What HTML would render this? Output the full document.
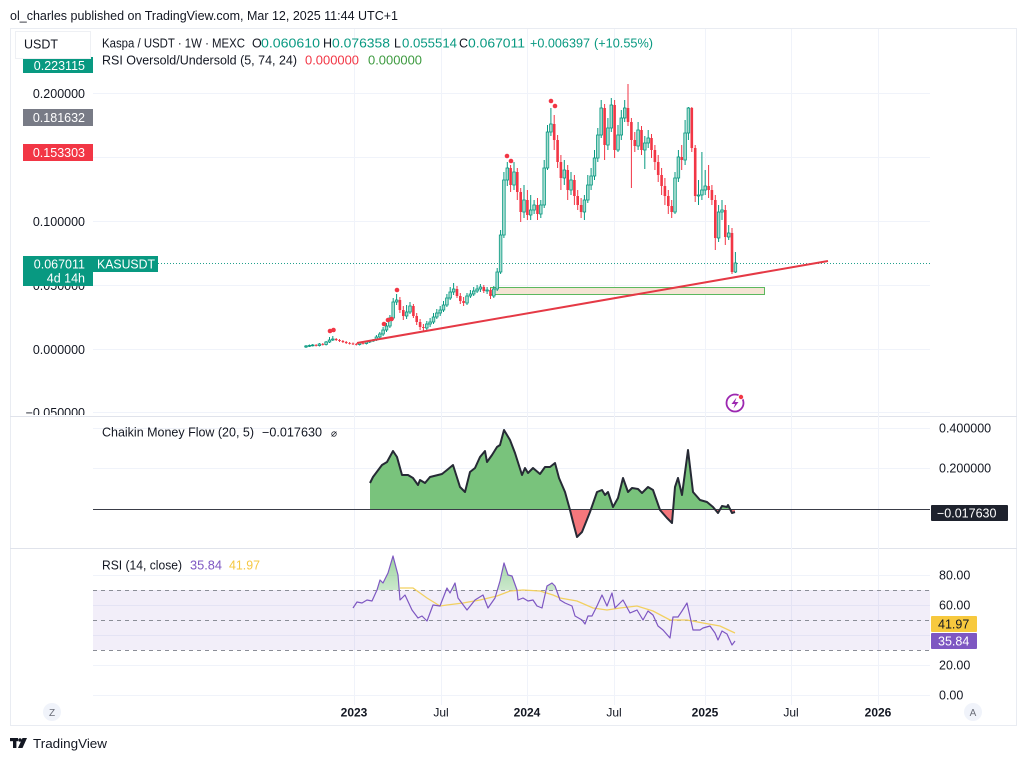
<!DOCTYPE html>
<html><head><meta charset="utf-8"><style>
html,body{margin:0;padding:0;background:#fff;}
svg{display:block;font-family:"Liberation Sans",Arial,sans-serif;}
</style></head><body>
<svg width="1024" height="760" viewBox="0 0 1024 760" xmlns="http://www.w3.org/2000/svg">
<defs>
<clipPath id="mainAx"><rect x="0" y="28" width="100" height="387"/></clipPath>
<clipPath id="rsiAx"><rect x="925" y="549" width="99" height="152"/></clipPath>
<clipPath id="above0"><rect x="90" y="417" width="845" height="92"/></clipPath>
<clipPath id="below0"><rect x="90" y="509" width="845" height="40"/></clipPath>
<clipPath id="ob"><rect x="90" y="549" width="845" height="41"/></clipPath>
<linearGradient id="obg" x1="0" y1="0" x2="0" y2="1"><stop offset="0" stop-color="#4caf50" stop-opacity="0.55"/><stop offset="1" stop-color="#4caf50" stop-opacity="0.05"/></linearGradient>
</defs>
<rect width="1024" height="760" fill="#fff"/>
<text x="10" y="20" font-size="13" fill="#131722" textLength="388" lengthAdjust="spacingAndGlyphs">ol_charles published on TradingView.com, Mar 12, 2025 11:44 UTC+1</text>

<!-- frame -->
<rect x="10.5" y="28.5" width="1006" height="697" fill="none" stroke="#e9ecf2"/>
<line x1="10" y1="416.5" x2="1017" y2="416.5" stroke="#e0e3eb"/>
<line x1="10" y1="548.5" x2="1017" y2="548.5" stroke="#e0e3eb"/>

<!-- grid -->
<g stroke="#f0f3fa" stroke-width="1">
<path d="M354.5 29V705M441.5 29V705M527.5 29V705M614.5 29V705M705.5 29V705M791.5 29V705M878.5 29V705"/>
<path d="M93 93.5H930M93 157.5H930M93 221.5H930M93 285.5H930M93 349.5H930M93 412.5H930"/>
<path d="M93 428.5H930M93 468.5H930"/>
<path d="M93 575.5H930M93 605.5H930M93 635.5H930M93 665.5H930M93 695.5H930"/>
</g>

<!-- RSI band -->
<rect x="93" y="590" width="837" height="60" fill="#7e57c2" fill-opacity="0.1"/>
<g stroke="#8a8d96" stroke-dasharray="4,4" stroke-width="1">
<path d="M93 590.5H930M93 620.5H930M93 650.5H930"/>
</g>

<!-- main axis labels left -->
<g clip-path="url(#mainAx)" font-size="12.5" fill="#131722" text-anchor="end">
<text x="85" y="98">0.200000</text>
<text x="85" y="226">0.100000</text>
<text x="85" y="290">0.050000</text>
<text x="85" y="354">0.000000</text>
<text x="85" y="417">−0.050000</text>
</g>
<rect x="23" y="57" width="70" height="16" fill="#089981"/>
<text x="85" y="70" font-size="12.5" fill="#fff" text-anchor="end">0.223115</text>
<rect x="15.5" y="31.5" width="75" height="27" fill="#fff" stroke="#eef0f4"/>
<text x="24" y="48.5" font-size="12.5" fill="#131722">USDT</text>
<rect x="23" y="109" width="70" height="17" fill="#787b86"/>
<text x="85" y="122" font-size="12.5" fill="#fff" text-anchor="end">0.181632</text>
<rect x="23" y="144" width="70" height="17" fill="#f23645"/>
<text x="85" y="157" font-size="12.5" fill="#fff" text-anchor="end">0.153303</text>

<!-- price line -->
<line x1="158" y1="263.5" x2="930" y2="263.5" stroke="#22a08c" stroke-width="1" stroke-dasharray="1,2"/>
<rect x="23" y="256" width="70" height="30" fill="#089981"/>
<text x="85" y="268.5" font-size="12.5" fill="#fff" text-anchor="end">0.067011</text>
<text x="85" y="282.5" font-size="12.5" fill="#fff" text-anchor="end">4d 14h</text>
<rect x="93" y="256" width="65" height="16" fill="#089981"/>
<text x="97" y="268.5" font-size="12.5" fill="#fff" textLength="58" lengthAdjust="spacingAndGlyphs">KASUSDT</text>

<!-- legend main -->
<g font-size="12.5">
<text x="102" y="47.5" fill="#131722" textLength="143" lengthAdjust="spacingAndGlyphs">Kaspa / USDT · 1W · MEXC</text>
<text x="252" y="47.5" fill="#131722">O</text><text x="261" y="47.5" fill="#089981" textLength="59" lengthAdjust="spacingAndGlyphs">0.060610</text>
<text x="323" y="47.5" fill="#131722">H</text><text x="332" y="47.5" fill="#089981" textLength="58" lengthAdjust="spacingAndGlyphs">0.076358</text>
<text x="394" y="47.5" fill="#131722">L</text><text x="402" y="47.5" fill="#089981" textLength="55" lengthAdjust="spacingAndGlyphs">0.055514</text>
<text x="459" y="47.5" fill="#131722">C</text><text x="468" y="47.5" fill="#089981" textLength="57" lengthAdjust="spacingAndGlyphs">0.067011</text>
<text x="530" y="47.5" fill="#089981" textLength="60" lengthAdjust="spacingAndGlyphs">+0.006397</text>
<text x="594" y="47.5" fill="#089981" textLength="59" lengthAdjust="spacingAndGlyphs">(+10.55%)</text>
<text x="102" y="64.5" fill="#131722" textLength="195" lengthAdjust="spacingAndGlyphs">RSI Oversold/Undersold (5, 74, 24)</text>
<text x="305" y="64.5" fill="#f23645" textLength="54" lengthAdjust="spacingAndGlyphs">0.000000</text>
<text x="368" y="64.5" fill="#3d9a3f" textLength="54" lengthAdjust="spacingAndGlyphs">0.000000</text>
</g>

<!-- box zone -->
<rect x="490.5" y="287.5" width="274" height="7" fill="#f5e4d4" stroke="#5cb85f" stroke-width="1"/>

<!-- candles wicks -->
<path fill="none" stroke="#089981" stroke-width="1" d="M306 345V348M309.4 344.5V347M312.7 344V346.5M319.4 343V346.5M326.1 341V345.5M329.5 337V343M332.8 336V341M359.6 342V345.5M366.4 341V344.5M369.7 340V343M373.1 339V342M376.4 335V341M379.8 332V338M383.1 327V336M386.5 323V332M389.9 315V328M393.2 298V320M396.6 294V305M406.6 305V319M410 302V314M426.8 321V330M430.1 318V327M433.5 313V324M436.8 309V319M440.2 306V316M443.5 301V312M446.9 294V307M450.2 287V300M453.6 283V295M467 293V305M470.4 290V298M473.7 287V296M477.1 285V293M480.4 284V292M487.1 287V294M493.8 286V298M497.2 268V291M500.6 230V274M503.9 172V238M507.3 162V186M514 162V190M524 185V218M530.7 195V220M534.1 200V214M540.8 200V218M544.2 160V208M547.5 125V170M550.9 108V136M564.3 160V185M571 172V195M584.4 195V220M587.8 175V203M591.1 168V190M594.5 150V180M597.8 128V162M601.2 100V138M607.9 118V150M611.3 98V132M618 125V152M621.3 110V140M624.7 100V122M638.1 122V150M644.8 136V169M648.2 130V148M675 172V214M678.4 150V182M685.1 120V165M688.4 107V140M698.5 180V205M701.9 152V200M705.2 170V195M718.6 205V242M722 200V220M728.7 225V240M735.4 252V273"/>
<path fill="none" stroke="#f23645" stroke-width="1" d="M316.1 344V346.5M322.8 343V345.5M336.2 338V341M339.5 339V342M342.9 340V343M346.2 341V344M349.6 342V344.5M353 342.5V345M356.3 343V345.5M363 342V344.5M399.9 297V313M403.3 306V320M413.4 304V318M416.7 313V325M420.1 319V330M423.4 324V331M457 286V298M460.3 293V304M463.6 297V306M483.8 285V293M490.5 288V299M510.6 165V192M517.3 168V200M520.7 188V222M527.4 190V220M537.5 198V220M554.2 115V150M557.6 135V168M560.9 155V190M567.7 165V200M574.4 175V205M577.7 190V210M581.1 198V218M604.6 104V160M614.6 100V158M628 84V126M631.4 118V188M634.8 132V152M641.5 126V155M651.5 134V158M654.9 145V170M658.2 155V182M661.6 168V195M664.9 178V205M668.3 190V214M671.7 200V218M681.7 145V170M691.8 107V152M695.2 145V202M708.6 165V198M711.9 185V205M715.3 195V250M725.3 205V245M732 228V274"/>
<!-- green bodies -->
<g fill="#a6dccf" stroke="#089981" stroke-width="0.8">
<rect x="304.7" y="346" width="2.6" height="1"/><rect x="308.1" y="345.5" width="2.6" height="0.8"/><rect x="311.4" y="345" width="2.6" height="0.8"/><rect x="318.1" y="344" width="2.6" height="1.5"/><rect x="324.8" y="342" width="2.6" height="2.5"/><rect x="328.2" y="340" width="2.6" height="2"/><rect x="331.5" y="339" width="2.6" height="1"/><rect x="358.3" y="343" width="2.6" height="1.5"/><rect x="365.1" y="342" width="2.6" height="1.5"/><rect x="368.4" y="341" width="2.6" height="1"/><rect x="371.8" y="340" width="2.6" height="1"/><rect x="375.1" y="337" width="2.6" height="3"/><rect x="378.5" y="334" width="2.6" height="3"/><rect x="381.8" y="330" width="2.6" height="4"/><rect x="385.2" y="326" width="2.6" height="4"/><rect x="388.6" y="318" width="2.6" height="8"/><rect x="391.9" y="302" width="2.6" height="16"/><rect x="395.3" y="300" width="2.6" height="2"/><rect x="405.3" y="312" width="2.6" height="4"/><rect x="408.7" y="306" width="2.6" height="6"/><rect x="425.5" y="324" width="2.6" height="4"/><rect x="428.8" y="322" width="2.6" height="2"/><rect x="432.2" y="317" width="2.6" height="5"/><rect x="435.5" y="313" width="2.6" height="4"/><rect x="438.9" y="310" width="2.6" height="3"/><rect x="442.2" y="305" width="2.6" height="5"/><rect x="445.6" y="298" width="2.6" height="7"/><rect x="448.9" y="292" width="2.6" height="6"/><rect x="452.3" y="289" width="2.6" height="3"/><rect x="465.7" y="296" width="2.6" height="7"/><rect x="469.1" y="294" width="2.6" height="2"/><rect x="472.4" y="291" width="2.6" height="3"/><rect x="475.8" y="289" width="2.6" height="2"/><rect x="479.1" y="287" width="2.6" height="2"/><rect x="485.8" y="290" width="2.6" height="1"/><rect x="492.5" y="289" width="2.6" height="7"/><rect x="495.9" y="272" width="2.6" height="17"/><rect x="499.3" y="235" width="2.6" height="37"/><rect x="502.6" y="180" width="2.6" height="55"/><rect x="506" y="168" width="2.6" height="12"/><rect x="512.7" y="172" width="2.6" height="13"/><rect x="522.7" y="200" width="2.6" height="12"/><rect x="529.4" y="210" width="2.6" height="5"/><rect x="532.8" y="205" width="2.6" height="5"/><rect x="539.5" y="205" width="2.6" height="9"/><rect x="542.9" y="168" width="2.6" height="37"/><rect x="546.2" y="132" width="2.6" height="36"/><rect x="549.6" y="124" width="2.6" height="8"/><rect x="563" y="170" width="2.6" height="8"/><rect x="569.7" y="180" width="2.6" height="10"/><rect x="583.1" y="200" width="2.6" height="12"/><rect x="586.5" y="185" width="2.6" height="15"/><rect x="589.8" y="176" width="2.6" height="9"/><rect x="593.2" y="158" width="2.6" height="18"/><rect x="596.5" y="135" width="2.6" height="23"/><rect x="599.9" y="108" width="2.6" height="27"/><rect x="606.6" y="128" width="2.6" height="17"/><rect x="610" y="105" width="2.6" height="23"/><rect x="616.7" y="135" width="2.6" height="15"/><rect x="620" y="118" width="2.6" height="17"/><rect x="623.4" y="108" width="2.6" height="10"/><rect x="636.8" y="130" width="2.6" height="16"/><rect x="643.5" y="143" width="2.6" height="7"/><rect x="646.9" y="138" width="2.6" height="5"/><rect x="673.7" y="178" width="2.6" height="34"/><rect x="677.1" y="157" width="2.6" height="21"/><rect x="683.8" y="133" width="2.6" height="27"/><rect x="687.1" y="108" width="2.6" height="25"/><rect x="697.2" y="195" width="2.6" height="1"/><rect x="700.6" y="190" width="2.6" height="5"/><rect x="703.9" y="186" width="2.6" height="4"/><rect x="717.3" y="212" width="2.6" height="26"/><rect x="720.7" y="210" width="2.6" height="2"/><rect x="727.4" y="233" width="2.6" height="4"/><rect x="734.1" y="263" width="2.6" height="9"/>
</g>
<!-- red bodies -->
<g fill="#f23645">
<rect x="314.8" y="345" width="2.6" height="0.8"/><rect x="321.5" y="344" width="2.6" height="0.8"/><rect x="334.9" y="339" width="2.6" height="1"/><rect x="338.2" y="340" width="2.6" height="1"/><rect x="341.6" y="341" width="2.6" height="1"/><rect x="344.9" y="342" width="2.6" height="1"/><rect x="348.3" y="343" width="2.6" height="0.8"/><rect x="351.7" y="343.5" width="2.6" height="0.8"/><rect x="355" y="344" width="2.6" height="0.8"/><rect x="361.7" y="343" width="2.6" height="0.8"/><rect x="398.6" y="300" width="2.6" height="10"/><rect x="402" y="310" width="2.6" height="6"/><rect x="412.1" y="306" width="2.6" height="10"/><rect x="415.4" y="316" width="2.6" height="6"/><rect x="418.8" y="322" width="2.6" height="5"/><rect x="422.1" y="327" width="2.6" height="1"/><rect x="455.7" y="289" width="2.6" height="7"/><rect x="459" y="296" width="2.6" height="5"/><rect x="462.3" y="301" width="2.6" height="2"/><rect x="482.5" y="287" width="2.6" height="4"/><rect x="489.2" y="290" width="2.6" height="6"/><rect x="509.3" y="168" width="2.6" height="17"/><rect x="516" y="172" width="2.6" height="20"/><rect x="519.4" y="192" width="2.6" height="20"/><rect x="526.1" y="200" width="2.6" height="15"/><rect x="536.2" y="205" width="2.6" height="9"/><rect x="552.9" y="124" width="2.6" height="16"/><rect x="556.3" y="140" width="2.6" height="22"/><rect x="559.6" y="162" width="2.6" height="16"/><rect x="566.4" y="170" width="2.6" height="20"/><rect x="573.1" y="180" width="2.6" height="16"/><rect x="576.4" y="196" width="2.6" height="9"/><rect x="579.8" y="205" width="2.6" height="7"/><rect x="603.3" y="108" width="2.6" height="37"/><rect x="613.3" y="105" width="2.6" height="45"/><rect x="626.7" y="108" width="2.6" height="14"/><rect x="630.1" y="122" width="2.6" height="18"/><rect x="633.5" y="140" width="2.6" height="6"/><rect x="640.2" y="130" width="2.6" height="20"/><rect x="650.2" y="138" width="2.6" height="12"/><rect x="653.6" y="150" width="2.6" height="12"/><rect x="656.9" y="162" width="2.6" height="13"/><rect x="660.3" y="175" width="2.6" height="11"/><rect x="663.6" y="186" width="2.6" height="10"/><rect x="667" y="196" width="2.6" height="10"/><rect x="670.4" y="206" width="2.6" height="6"/><rect x="680.4" y="157" width="2.6" height="3"/><rect x="690.5" y="108" width="2.6" height="40"/><rect x="693.9" y="148" width="2.6" height="48"/><rect x="707.3" y="186" width="2.6" height="4"/><rect x="710.6" y="190" width="2.6" height="10"/><rect x="714" y="200" width="2.6" height="38"/><rect x="724" y="210" width="2.6" height="27"/><rect x="730.7" y="233" width="2.6" height="39"/>
</g>
<!-- signal dots -->
<g fill="#f23645">
<circle cx="330" cy="331" r="2.3"/><circle cx="333.5" cy="330" r="2.3"/>
<circle cx="384" cy="324" r="2.3"/><circle cx="388" cy="320" r="2.3"/><circle cx="391.5" cy="319" r="2.3"/>
<circle cx="397" cy="290" r="2.3"/>
<circle cx="507" cy="156" r="2.3"/><circle cx="511" cy="161" r="2.3"/>
<circle cx="551" cy="101" r="2.3"/><circle cx="555" cy="106" r="2.3"/>
</g>
<!-- trend line -->
<line x1="357" y1="343" x2="828" y2="261" stroke="#e53945" stroke-width="2"/>

<!-- lightning icon -->
<circle cx="735" cy="403" r="8.5" fill="#fff" stroke="#9c27b0" stroke-width="1.8"/>
<path d="M736.5 397.5 L731.5 404 L735 404 L733.5 408.5 L738.5 402 L735 402 Z" fill="#9c27b0"/>
<circle cx="741" cy="397" r="2.6" fill="#f23645" stroke="#fff" stroke-width="0.8"/>

<!-- CMF -->
<g font-size="12.5">
<text x="102" y="436.5" fill="#131722" textLength="152" lengthAdjust="spacingAndGlyphs">Chaikin Money Flow (20, 5)</text>
<text x="262" y="436.5" fill="#131722" textLength="60" lengthAdjust="spacingAndGlyphs">−0.017630</text>
<text x="331" y="436.5" fill="#131722" font-size="10">⌀</text>
</g>
<polygon clip-path="url(#above0)" fill="#79c37c" points="370,509 370,483 373,477 382,465 387,462 393,451 397,457 402,475 408,475 413,478 418,485 420,480 425,483 430,477 442,474 447,470 453,465 460,487 465,492 470,472 475,468 480,457 485,451 487,462 492,455 497,447 500,445 504,430 510,440 515,453 522,475 525,468 528,473 533,468 540,474 545,467 550,467 555,463 559,478 565,492 570,510 573,522 577,537 582,532 590,512 597,492 602,490 605,495 608,492 613,507 618,498 623,478 628,492 632,488 638,489 642,493 648,487 653,490 660,510 667,518 672,523 675,487 678,478 682,495 688,450 693,492 700,500 707,502 713,507 718,513 722,506 727,507 728,505 732,513 735,512 735,509"/>
<polygon clip-path="url(#below0)" fill="#f5777c" points="370,509 370,483 373,477 382,465 387,462 393,451 397,457 402,475 408,475 413,478 418,485 420,480 425,483 430,477 442,474 447,470 453,465 460,487 465,492 470,472 475,468 480,457 485,451 487,462 492,455 497,447 500,445 504,430 510,440 515,453 522,475 525,468 528,473 533,468 540,474 545,467 550,467 555,463 559,478 565,492 570,510 573,522 577,537 582,532 590,512 597,492 602,490 605,495 608,492 613,507 618,498 623,478 628,492 632,488 638,489 642,493 648,487 653,490 660,510 667,518 672,523 675,487 678,478 682,495 688,450 693,492 700,500 707,502 713,507 718,513 722,506 727,507 728,505 732,513 735,512 735,509"/>
<line x1="93" y1="509.5" x2="930" y2="509.5" stroke="#3a3d48" stroke-width="1"/>
<polyline fill="none" stroke="#262a35" stroke-width="2" stroke-linejoin="round" points="370,483 373,477 382,465 387,462 393,451 397,457 402,475 408,475 413,478 418,485 420,480 425,483 430,477 442,474 447,470 453,465 460,487 465,492 470,472 475,468 480,457 485,451 487,462 492,455 497,447 500,445 504,430 510,440 515,453 522,475 525,468 528,473 533,468 540,474 545,467 550,467 555,463 559,478 565,492 570,510 573,522 577,537 582,532 590,512 597,492 602,490 605,495 608,492 613,507 618,498 623,478 628,492 632,488 638,489 642,493 648,487 653,490 660,510 667,518 672,523 675,487 678,478 682,495 688,450 693,492 700,500 707,502 713,507 718,513 722,506 727,507 728,505 732,513 735,512"/>
<g font-size="12.5" fill="#131722">
<text x="939" y="432.5">0.400000</text>
<text x="939" y="472.5">0.200000</text>
</g>
<rect x="931" y="505" width="77" height="16" rx="1" fill="#1e222d"/>
<text x="937" y="517.5" font-size="12.5" fill="#fff">−0.017630</text>

<!-- RSI -->
<g font-size="12.5">
<text x="102" y="569.5" fill="#131722" textLength="80" lengthAdjust="spacingAndGlyphs">RSI (14, close)</text>
<text x="190" y="569.5" fill="#7e57c2" textLength="32" lengthAdjust="spacingAndGlyphs">35.84</text>
<text x="229" y="569.5" fill="#f5c842" textLength="31" lengthAdjust="spacingAndGlyphs">41.97</text>
</g>
<polygon clip-path="url(#ob)" fill="url(#obg)" points="353,608 357,602 362,603 367,600 372,601 377,590 380,580 383,583 388,573 393,556 398,575 400,600 405,595 412,610 418,618 422,616 427,621 433,605 440,606 447,588 450,593 455,583 458,598 467,610 475,600 483,595 488,608 495,598 500,581 504,563 508,575 512,576 517,590 518,600 523,598 528,601 533,600 537,606 542,608 547,586 552,583 555,586 560,600 560,610 353,610"/>
<polyline fill="none" stroke="#f2d060" stroke-width="1.3" points="400,588 413,588 427,598 440,606 447,605 463,603 480,600 497,596 510,591 523,590 540,591 553,595 560,598 577,601 593,608 607,610 620,608 637,606 653,611 670,620 687,620 703,623 720,626 735,633"/>
<polyline fill="none" stroke="#7e57c2" stroke-width="1.2" stroke-linejoin="round" points="353,608 357,602 362,603 367,600 372,601 377,590 380,580 383,583 388,573 393,556 398,575 400,600 405,595 412,610 418,618 422,616 427,621 433,605 440,606 447,588 450,593 455,583 458,598 467,610 475,600 483,595 488,608 495,598 500,581 504,563 508,575 512,576 517,590 518,600 523,598 528,601 533,600 537,606 542,608 547,586 552,583 555,586 560,600 565,603 572,606 575,616 582,620 585,624 588,616 592,616 597,606 602,595 607,606 612,593 615,608 623,600 630,613 637,610 643,620 648,611 653,615 658,626 663,630 670,638 673,617 678,617 682,611 687,603 693,630 700,630 703,628 710,626 715,633 718,640 722,631 727,634 732,645 735,641"/>
<g clip-path="url(#rsiAx)" font-size="12.5" fill="#131722">
<text x="939" y="579.5">80.00</text>
<text x="939" y="609.5">60.00</text>
<text x="939" y="669.5">20.00</text>
<text x="939" y="699.5">0.00</text>
</g>
<rect x="931" y="616" width="46" height="16" rx="1" fill="#f7c93e"/>
<text x="938" y="628.5" font-size="12.5" fill="#131722">41.97</text>
<rect x="931" y="633" width="46" height="16" rx="1" fill="#7e57c2"/>
<text x="938" y="645.5" font-size="12.5" fill="#fff">35.84</text>

<!-- time axis -->
<g font-size="12" fill="#131722" text-anchor="middle">
<text x="354" y="716.5" font-weight="bold">2023</text>
<text x="441" y="716.5">Jul</text>
<text x="527" y="716.5" font-weight="bold">2024</text>
<text x="614" y="716.5">Jul</text>
<text x="705" y="716.5" font-weight="bold">2025</text>
<text x="791" y="716.5">Jul</text>
<text x="878" y="716.5" font-weight="bold">2026</text>
</g>
<circle cx="52" cy="712" r="9" fill="#f0f3fa"/>
<text x="52" y="716" font-size="10" fill="#6a6d78" text-anchor="middle">Z</text>
<circle cx="973" cy="712" r="9" fill="#f0f3fa"/>
<text x="973" y="716" font-size="10" fill="#6a6d78" text-anchor="middle">A</text>

<!-- footer logo -->
<g fill="#131722">
<rect x="10" y="738" width="8" height="3.2"/>
<rect x="13" y="738" width="3.4" height="10"/>
<circle cx="20" cy="740" r="1.8"/>
<polygon points="22.5,738 27,738 22.5,748 18,748"/>
</g>
<text x="33" y="748" font-size="13" fill="#131722" textLength="74" lengthAdjust="spacingAndGlyphs">TradingView</text>
</svg>
</body></html>
